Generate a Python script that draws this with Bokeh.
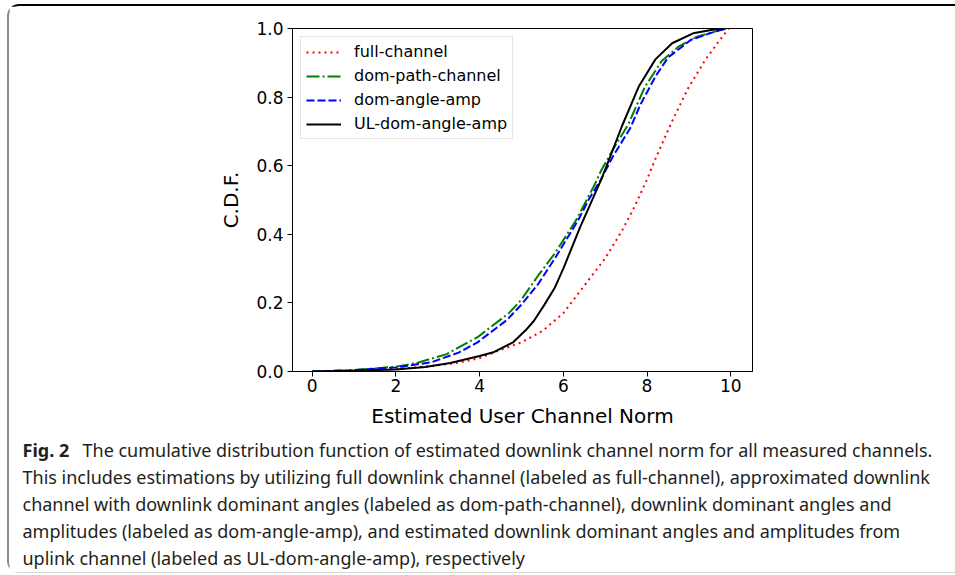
from bokeh.plotting import figure
from bokeh.layouts import column
from bokeh.models import (Range1d, FixedTicker, PrintfTickFormatter, Legend, LegendItem, Label)
from bokeh.embed import file_html
from bokeh.resources import INLINE

# ---- data ----
full_x = [0, 1, 2, 2.5, 3, 3.5, 4, 4.5, 5, 5.5, 6, 6.5, 7, 7.4, 7.7, 8.0, 8.2, 8.6, 9.0, 9.4, 9.7, 9.95]
full_c = [0, 0.002, 0.008, 0.012, 0.018, 0.026, 0.039, 0.063, 0.085, 0.118, 0.17, 0.25, 0.33, 0.41, 0.48,
          0.56, 0.62, 0.73, 0.83, 0.91, 0.96, 1.0]

path_x = [0, 1, 2, 2.5, 3.2, 3.95, 4.7, 5.0, 5.4, 5.8, 6.3, 6.75, 6.9, 7.2, 7.55, 7.95, 8.35, 8.75, 9.2, 9.75, 9.95]
path_c = [0, 0.004, 0.014, 0.025, 0.05, 0.1, 0.17, 0.21, 0.28, 0.345, 0.44, 0.545, 0.585, 0.65, 0.72, 0.83,
          0.905, 0.947, 0.976, 0.996, 1.0]

amp_x = [0, 1, 2, 2.85, 3.5, 3.95, 4.65, 5.0, 5.4, 5.8, 6.35, 6.6, 6.9, 7.2, 7.6, 7.85, 8.2, 8.5, 9.05, 9.6, 9.9]
amp_c = [0, 0.004, 0.012, 0.027, 0.055, 0.085, 0.15, 0.195, 0.255, 0.33, 0.44, 0.5, 0.56, 0.63, 0.71, 0.78,
         0.86, 0.915, 0.967, 0.99, 1.0]

ul_x = [0, 1, 2, 2.7, 3.3, 4.0, 4.35, 4.8, 5.1, 5.3, 5.55, 5.8, 6.0, 6.4, 6.9, 7.1, 7.4, 7.8, 8.2, 8.6,
        9.1, 9.6, 9.85]
ul_c = [0, 0.002, 0.006, 0.013, 0.025, 0.045, 0.057, 0.085, 0.12, 0.148, 0.195, 0.245, 0.30, 0.42, 0.558,
        0.62, 0.715, 0.83, 0.91, 0.957, 0.986, 0.997, 1.0]

series_names = ["full-channel", "dom-path-channel", "dom-angle-amp", "UL-dom-angle-amp"]
x_ticks = [0, 2, 4, 6, 8, 10]
y_ticks = [0.0, 0.2, 0.4, 0.6, 0.8, 1.0]

x_label = "Estimated User Channel Norm"
y_label = "C.D.F."

caption_bold = "Fig. 2"
caption_lines = [
    "The cumulative distribution function of estimated downlink channel norm for all measured channels.",
    "This includes estimations by utilizing full downlink channel (labeled as full-channel), approximated downlink",
    "channel with downlink dominant angles (labeled as dom-path-channel), downlink dominant angles and",
    "amplitudes (labeled as dom-angle-amp), and estimated downlink dominant angles and amplitudes from",
    "uplink channel (labeled as UL-dom-angle-amp), respectively",
]

# ---- geometry (page pixels) ----
W, H = 955, 575
OX, OY = 9, 6            # content origin inside the border box
FL, FR, FT, FB = 292, 752, 28, 371
P1_BOTTOM = 437
CAP_BOTTOM = 572
PW = W - OX

p = figure(width=PW, height=P1_BOTTOM - OY, output_backend="svg", toolbar_location=None,
           x_range=Range1d(-0.47, 10.52), y_range=Range1d(0, 1.0),
           min_border_left=FL - OX, min_border_right=W - FR, min_border_top=FT - OY,
           min_border_bottom=P1_BOTTOM - FB)
p.background_fill_color = "white"
p.border_fill_color = "white"
p.outline_line_color = "black"
p.outline_line_width = 1
p.xgrid.visible = False
p.ygrid.visible = False

font = "DejaVu Sans"
for ax in (p.xaxis[0], p.yaxis[0]):
    ax.axis_line_color = "black"
    ax.major_tick_line_color = "black"
    ax.major_tick_out = 5
    ax.major_tick_in = 0
    ax.minor_tick_line_color = None
    ax.major_label_text_font = font
    ax.major_label_text_font_size = "17px"
    ax.major_label_text_color = "black"
    ax.axis_label_text_font = font
    ax.axis_label_text_font_size = "20px"
    ax.axis_label_text_font_style = "normal"
    ax.axis_label_text_color = "black"

p.xaxis.ticker = FixedTicker(ticks=x_ticks)
p.yaxis.ticker = FixedTicker(ticks=y_ticks)
p.yaxis.formatter = PrintfTickFormatter(format="%.1f")
p.xaxis.axis_label = x_label
p.yaxis.axis_label = y_label
p.xaxis.major_label_standoff = 2
p.xaxis.axis_label_standoff = 9
p.yaxis.major_label_standoff = 4
p.yaxis.axis_label_standoff = 10

r_full = p.line(full_x, full_c, line_color="#ff0000", line_width=2, line_dash="2 4")
r_path = p.line(path_x, path_c, line_color="#008000", line_width=2, line_dash="13 3 2 3")
r_amp = p.line(amp_x, amp_c, line_color="#0000ff", line_width=2, line_dash="8 3")
r_ul = p.line(ul_x, ul_c, line_color="black", line_width=2)

legend = Legend(items=[LegendItem(label=n, renderers=[r]) for n, r in
                       zip(series_names, [r_full, r_path, r_amp, r_ul])],
                location="top_left")
legend.margin = 8
legend.padding = 5
legend.spacing = 5
legend.glyph_width = 35
legend.glyph_height = 16
legend.label_height = 16
legend.label_standoff = 13
legend.label_text_font = font
legend.label_text_font_size = "16px"
legend.label_text_color = "black"
legend.border_line_color = "#cccccc"
legend.border_line_width = 1
legend.background_fill_color = "white"
legend.background_fill_alpha = 0.8
p.add_layout(legend, "center")

# ---- caption panel: frame covers the whole canvas, coordinates = page pixels ----
cap = figure(width=PW, height=CAP_BOTTOM - P1_BOTTOM, output_backend="svg", toolbar_location=None,
             x_range=Range1d(OX, W), y_range=Range1d(CAP_BOTTOM, P1_BOTTOM),
             x_axis_location=None, y_axis_location=None,
             min_border=0, min_border_left=0, min_border_right=0, min_border_top=0, min_border_bottom=0)
cap.outline_line_color = None
cap.xgrid.visible = False
cap.ygrid.visible = False
cap.background_fill_color = "white"
cap.border_fill_color = "white"

# keep each figure's own frame (no cross-figure frame alignment)
for fig in (p, cap):
    try:
        fig.frame_align = False
    except Exception:
        pass

cap_font = "Noto Sans"
cap_size = "18px"
cap_color = "#231f20"
centers = [449, 476.5, 503.5, 530.5, 557]
cap.add_layout(Label(x=22, y=centers[0], text=caption_bold,
                     text_font=cap_font, text_font_size=cap_size, text_font_style="bold",
                     text_color=cap_color, text_baseline="middle"))
for i, line in enumerate(caption_lines):
    x0 = 82 if i == 0 else 22
    cap.add_layout(Label(x=x0, y=centers[i], text=line,
                         text_font=cap_font, text_font_size=cap_size, text_color=cap_color,
                         text_baseline="middle"))

root = column(p, cap, spacing=0,
              styles={"margin-left": "7px", "margin-top": "4px",
                      "border-left": "2px solid #8c8c8c", "border-top": "2px solid #000000",
                      "border-bottom": "1px solid #d9d9d9",
                      "border-top-left-radius": "12px", "border-bottom-left-radius": "12px",
                      "background-color": "white"})

open("out.html", "w").write(file_html(root, INLINE))
